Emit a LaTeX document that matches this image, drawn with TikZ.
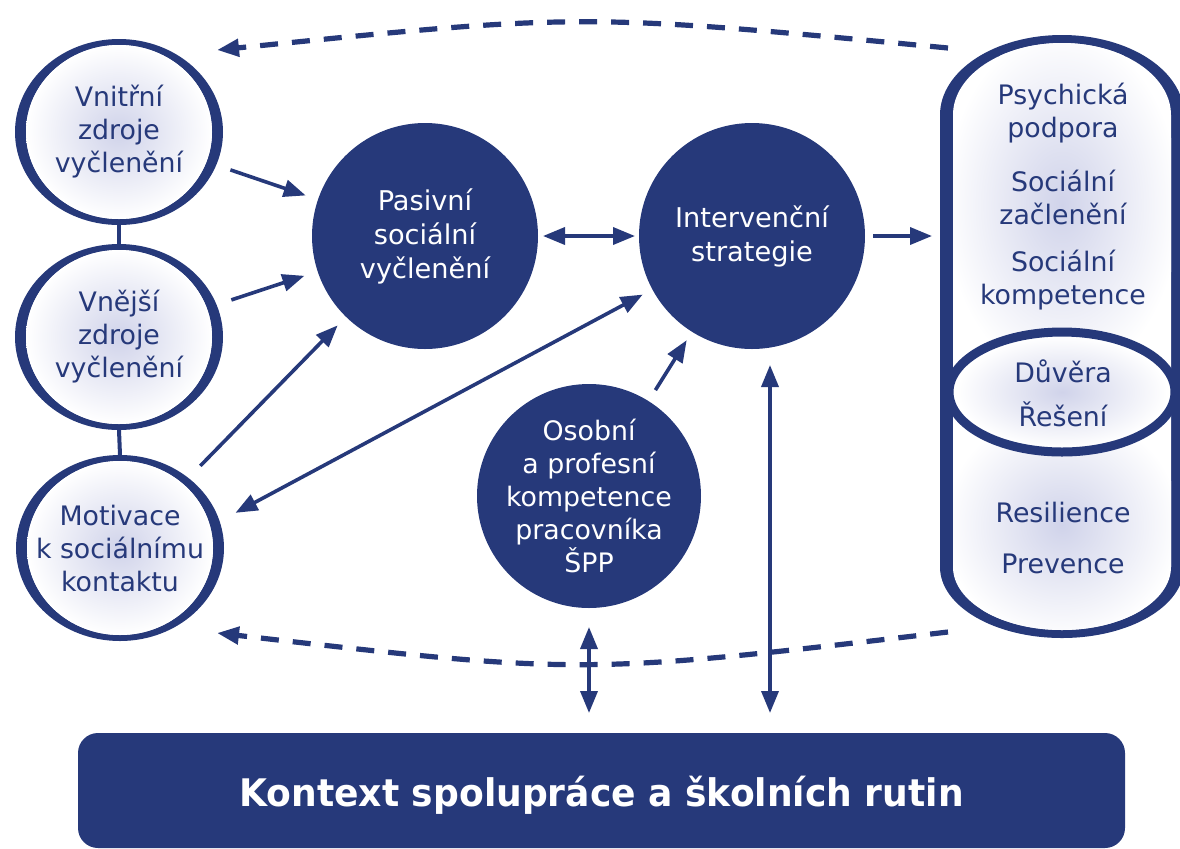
\documentclass[tikz,border=0pt]{standalone}
\usepackage{fontspec}
\setmainfont{DejaVu Sans}
\newfontfamily\ctxfont[FakeStretch=0.95]{DejaVu Sans}
\usetikzlibrary{shapes.geometric,arrows.meta,calc}
\definecolor{navy}{RGB}{38,57,122}
\definecolor{tint}{RGB}{208,211,234}
\begin{document}
\begin{tikzpicture}[x=0.5pt,y=-0.5pt,
  every node/.style={font=\fontsize{13.4}{16.5}\selectfont, align=center, inner sep=0pt, outer sep=0pt},
  leftc/.style={ellipse, fill=navy, inner sep=-14pt, minimum width=104pt, minimum height=93pt, text=navy,
     path picture={
       \fill[white] (path picture bounding box.center) ellipse [x radius=46.5pt, y radius=43.5pt];
       \shade[inner color=tint, outer color=white] (path picture bounding box.center) ellipse [x radius=46.5pt, y radius=43.5pt];}},
  midc/.style={circle, fill=navy, inner sep=-10pt, minimum size=113pt, text=white, font=\fontsize{13.6}{17}\selectfont},
  captext/.style={text=navy},
  arr/.style={navy, line width=1.8pt, -{Triangle[length=11pt,width=8.5pt]}},
  dbl/.style={navy, line width=1.8pt, {Triangle[length=11pt,width=8.5pt]}-{Triangle[length=11pt,width=8.5pt]}},
  dasharrow/.style={navy, line width=2.6pt, dash pattern=on 9pt off 7pt, -{Triangle[length=11pt,width=8.5pt]}},
  linkline/.style={navy, line width=2pt}
]
\useasboundingbox (0,0) rectangle (1180,848);

% ---- left circles
\node[leftc] (c1) at (119,132) {Vnitřní\\zdroje\\vyčlenění};
\node[leftc] (c2) at (119,337) {Vnější\\zdroje\\vyčlenění};
\node[leftc] (c3) at (120,548) {Motivace\\k sociálnímu\\kontaktu};
\draw[linkline] (c1.south) -- (c2.north);
\draw[linkline] (c2.south) -- (c3.north);

% ---- middle circles
\node[midc] (pas) at (425,236) {Pasivní\\sociální\\vyčlenění};
\node[midc] (int) at (752,236) {Intervenční\\strategie};
\node[midc, minimum size=112pt, font=\fontsize{13.4}{16.5}\selectfont] (osb) at (589,496) {Osobní\\a profesní\\kompetence\\pracovníka\\ŠPP};

% ---- right capsule
\fill[navy] (940,115) -- (940,567) arc[start angle=180, end angle=0, x radius=122, y radius=71]
  -- (1184,115) arc[start angle=0, end angle=-180, x radius=122, y radius=80] -- cycle;
\begin{scope}
  \clip (953,115) -- (953,567) arc[start angle=180, end angle=0, x radius=109, y radius=63]
    -- (1171,115) arc[start angle=0, end angle=-180, x radius=109, y radius=72] -- cycle;
  \fill[white] (930,0) rectangle (1190,700);
  \shade[inner color=tint, outer color=white] (1062,205) ellipse [x radius=118, y radius=175];
  \shade[inner color=tint, outer color=white] (1062,525) ellipse [x radius=118, y radius=115];
  \shade[inner color=tint, outer color=white] (1062,392) ellipse [x radius=105, y radius=56];
\end{scope}
\draw[navy, line width=4.5pt] (1062,392) ellipse [x radius=113, y radius=60];
\coordinate (capL) at (940,236);

\node[captext] (cap1) at (1063,113) {Psychická\\podpora};
\node[captext] (cap2) at (1063,197) {Sociální\\začlenění};
\node[captext] (cap3) at (1063,280) {Sociální\\kompetence};
\node[captext] (cap4) at (1063,393) {Důvěra\\[5.5pt]Řešení};
\node[captext] (cap5) at (1063,538) {Resilience\\[9pt]Prevence};

% ---- bottom box
\node[fill=navy, rounded corners=10pt, minimum width=523.5pt, minimum height=57.5pt] (ctxbox) at (601.5,790.5) {};
\node[text=white, font=\ctxfont\bfseries\fontsize{19}{21}\selectfont] (ctxt) at (601.5,795) {Kontext spolupráce a školních rutin};

% ---- connectors
\draw[arr, shorten <=7.5pt, shorten >=6.5pt] (c1) -- (pas);
\draw[arr, shorten <=7.8pt, shorten >=7pt] (c2) -- (pas);
\draw[arr, shorten <=8.5pt, shorten >=6pt] (c3) -- (pas);
\draw[dbl, shorten <=9pt, shorten >=5.5pt] (c3.15) -- (int);
\draw[dbl, shorten <=2.5pt, shorten >=2pt] (pas) -- (int);
\draw[arr, shorten <=6.5pt, shorten >=5pt] (osb) -- (int);
\draw[arr, shorten <=4pt, shorten >=4pt] (int.east) -- (capL);
\draw[dbl, shorten <=8pt, shorten >=10pt] ([xshift=9pt]int.south) -- ([xshift=9pt]int.south |- ctxbox.north);
\draw[dbl, shorten <=9.5pt, shorten >=10pt] (osb.south) -- (osb.south |- ctxbox.north);

\coordinate (dts) at (948,48);
\coordinate (dte) at (217,50);
\draw[dasharrow] (dts) .. controls (582,13) .. (dte);
\coordinate (dbs) at (948,632);
\coordinate (dbe) at (217,633);
\draw[dasharrow] (dbs) .. controls (582,675) .. (dbe);
\end{tikzpicture}
\end{document}
